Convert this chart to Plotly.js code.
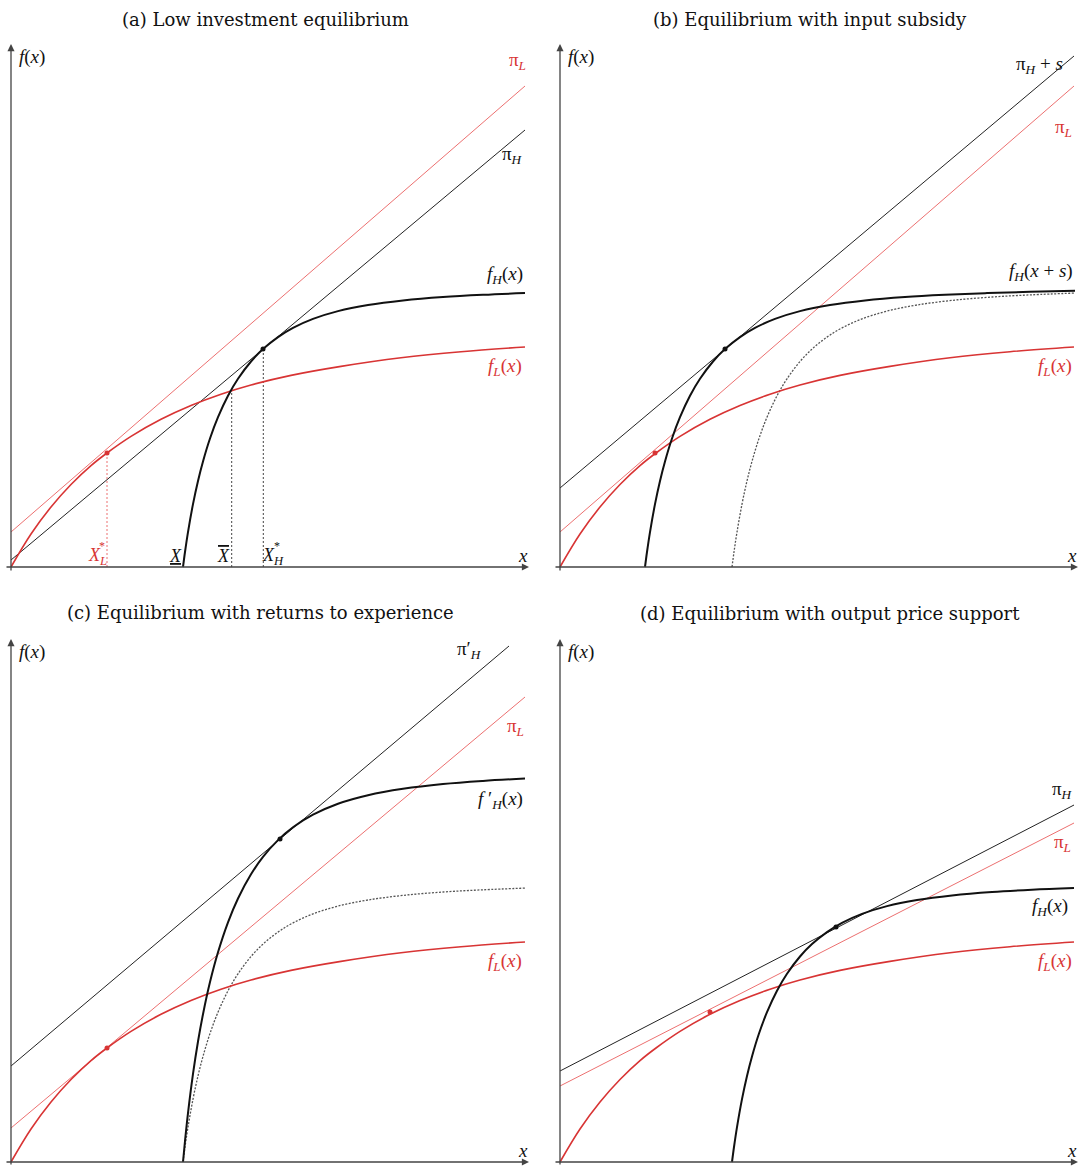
<!DOCTYPE html>
<html>
<head>
<meta charset="utf-8">
<script src="https://cdn.plot.ly/plotly-3.0.1.min.js"></script>
<style>html,body{margin:0;padding:0;background:#fff;}#chart{width:1085px;height:1166px;}</style>
</head>
<body>
<div id="chart"></div>
<script>
const fL_x = [0, 20, 40, 60, 80, 96, 120, 150, 180, 210, 240, 280, 330, 390, 450, 514];
const fL_y = [0, 33, 60, 82.5, 101.4, 114, 130.6, 147.7, 161.5, 172.8, 182, 191.6, 200.6, 209.2, 215.3, 220];

const fH_x = [172, 174, 177, 182, 187, 192, 199, 207, 217, 227, 240, 252, 267, 282, 302, 327, 357, 392, 432, 472, 514];
const fH_y = [0, 15, 34.9, 62.9, 86.1, 105.6, 128.5, 149.8, 171.2, 188.2, 205.5, 217.9, 229.9, 239.1, 248.1, 255.9, 262, 266.6, 270, 272.2, 273.9];

// f_H(x+s) in panel (b)
const fHs_x = [85, 87, 90, 95, 100, 105, 112, 120, 130, 140, 153, 165, 180, 195, 215, 240, 270, 305, 345, 385, 427, 470, 515];
const fHs_y = [0, 15, 34.9, 62.9, 86.1, 105.6, 128.5, 149.8, 171.2, 188.2, 205.5, 217.9, 229.9, 239.1, 248.1, 255.9, 262, 266.6, 270, 272.2, 273.9, 275.2, 276.3];

// f'_H(x) in panel (c)
const fHp_x = [172, 174, 177, 182, 187, 192, 199, 207, 217, 227, 240, 252, 267, 282, 302, 327, 357, 392, 432, 472, 514];
const fHp_y = [0, 21, 48.9, 88.1, 120.5, 147.8, 179.9, 209.7, 239.7, 263.5, 287.7, 305.1, 321.9, 334.7, 347.3, 358.3, 366.8, 373.2, 378, 381.1, 383.5];

// straight profit lines: [start, end]
const line_x   = [0, 514];
const piL_a    = [35, 481];
const piH_a    = [7, 437];
const piHs_b   = [79, 511];
const piL_b    = [35, 481];
const piHp_c_x = [0, 498];
const piHp_c   = [96, 516];
const piL_c    = [34, 465];
const piH_d    = [91, 357];
const piL_d    = [76, 339];

// marked points
const dotL = {a: [96, 114], b: [95, 114], c: [96, 114], d: [150, 150]};
const dotH = {a: [252, 217.9], b: [165, 217.9], c: [269, 323], d: [276, 235]};

// panel (a) guide lines: X_L*, X-bar, X_H*
const guide_x = [96, 220.7, 252.3];
const guide_top = [114, 177.5, 217.9];

// ---- styles ----
const RED = 'rgb(216,52,52)';
const RED_L = 'rgb(236,112,112)';
const BLK = '#111';
const P = {a: ['x', 'y'], b: ['x2', 'y2'], c: ['x3', 'y3'], d: ['x4', 'y4']};

function tr(p, x, y, color, width, dash, shape) {
  return {x: x, y: y, xaxis: P[p][0], yaxis: P[p][1], type: 'scatter', mode: 'lines',
    line: {color: color, width: width, dash: dash || 'solid', shape: shape || 'linear', smoothing: 1},
    hoverinfo: 'skip'};
}
function dot(p, pt, color) {
  return {x: [pt[0]], y: [pt[1]], xaxis: P[p][0], yaxis: P[p][1], type: 'scatter', mode: 'markers',
    marker: {color: color, size: 5}, hoverinfo: 'skip'};
}
const DOTTED = '2px,1.5px';

const data = [];
// (a)
data.push(tr('a', line_x, piL_a, RED_L, 1));
data.push(tr('a', line_x, piH_a, '#222', 1));
for (let i = 0; i < guide_x.length; i++) {
  data.push(tr('a', [guide_x[i], guide_x[i]], [0, guide_top[i]], i === 0 ? RED_L : '#444', 1, '2px,2px'));
}
data.push(tr('a', fL_x, fL_y, RED, 1.6, 'solid', 'spline'));
data.push(tr('a', fH_x, fH_y, BLK, 2, 'solid', 'spline'));
data.push(dot('a', dotL.a, RED));
data.push(dot('a', dotH.a, BLK));
// (b)
data.push(tr('b', line_x, piHs_b, '#222', 1));
data.push(tr('b', line_x, piL_b, RED_L, 1));
data.push(tr('b', fH_x, fH_y, '#555', 1.3, DOTTED, 'spline'));
data.push(tr('b', fL_x, fL_y, RED, 1.6, 'solid', 'spline'));
data.push(tr('b', fHs_x, fHs_y, BLK, 2, 'solid', 'spline'));
data.push(dot('b', dotL.b, RED));
data.push(dot('b', dotH.b, BLK));
// (c)
data.push(tr('c', piHp_c_x, piHp_c, '#222', 1));
data.push(tr('c', line_x, piL_c, RED_L, 1));
data.push(tr('c', fH_x, fH_y, '#555', 1.3, DOTTED, 'spline'));
data.push(tr('c', fL_x, fL_y, RED, 1.6, 'solid', 'spline'));
data.push(tr('c', fHp_x, fHp_y, BLK, 2, 'solid', 'spline'));
data.push(dot('c', dotL.c, RED));
data.push(dot('c', dotH.c, BLK));
// (d)
data.push(tr('d', line_x, piH_d, '#222', 1));
data.push(tr('d', line_x, piL_d, RED_L, 1));
data.push(tr('d', fL_x, fL_y, RED, 1.6, 'solid', 'spline'));
data.push(tr('d', fH_x, fH_y, BLK, 2, 'solid', 'spline'));
data.push(dot('d', dotL.d, RED));
data.push(dot('d', dotH.d, BLK));

// ---- annotations ----
const SERIF = 'Liberation Serif';
const ann = [];
function lab(p, x, y, text, color, xanchor, size) {
  ann.push({xref: P[p][0], yref: P[p][1], x: x, y: y, text: text, showarrow: false,
    xanchor: xanchor || 'center', yanchor: 'middle',
    font: {family: SERIF, size: size || 19, color: color || '#111'}});
}
function axes(p, bottom) {
  ann.push({xref: P[p][0], yref: P[p][1], axref: P[p][0], ayref: P[p][1], x: 518, y: 0, ax: -6, ay: 0,
    text: '', showarrow: true, arrowhead: 2, arrowsize: 1.1, arrowwidth: 1.3, arrowcolor: '#444', standoff: 0});
  ann.push({xref: P[p][0], yref: P[p][1], axref: P[p][0], ayref: P[p][1], x: 0, y: 523, ax: 0, ay: bottom,
    text: '', showarrow: true, arrowhead: 2, arrowsize: 1.1, arrowwidth: 1.3, arrowcolor: '#444', standoff: 0});
  lab(p, 6, 510, '<i>f</i>(<i>x</i>)', '#111', 'left', 19);
  lab(p, 512, 12, '<i>x</i>', '#111', 'center', 19);
}
axes('a', -5); axes('b', -5); axes('c', -4); axes('d', -4);

// titles
const TF = {family: 'DejaVu Serif', size: 18, color: '#111'};
function title(x, y, text) {
  ann.push({xref: 'paper', yref: 'paper', x: x, y: y, text: text, showarrow: false,
    xanchor: 'center', yanchor: 'middle', font: TF});
}
title(265 / 1085, 1 - 19 / 1166, '(a) Low investment equilibrium');
title(810 / 1085, 1 - 19 / 1166, '(b) Equilibrium with input subsidy');
title(260 / 1085, 1 - 612 / 1166, '(c) Equilibrium with returns to experience');
title(830 / 1085, 1 - 613 / 1166, '(d) Equilibrium with output price support');

// panel (a) labels
lab('a', 506, 506, 'π<sub><i>L</i></sub>', RED);
lab('a', 501, 412, 'π<sub><i>H</i></sub>');
lab('a', 494, 292, '<i>f</i><sub><i>H</i></sub>(<i>x</i>)');
lab('a', 494, 200, '<i>f</i><sub><i>L</i></sub>(<i>x</i>)', RED);
lab('a', 86, 11, '<i>X</i><sub><i>L</i></sub>', RED, 'center', 18);
lab('a', 91, 21, '*', RED, 'center', 12);
lab('a', 164, 11, '<span style="text-decoration:underline"><i>X</i></span>', '#111', 'center', 18);
lab('a', 212, 11, '<span style="text-decoration:overline"><i>X</i></span>', '#111', 'center', 18);
lab('a', 262, 11, '<i>X</i><sub><i>H</i></sub>', '#111', 'center', 18);
lab('a', 266, 21, '*', '#111', 'center', 12);
// panel (b)
lab('b', 479, 502, 'π<sub><i>H</i></sub> + <i>s</i>');
lab('b', 503, 439, 'π<sub><i>L</i></sub>', RED);
lab('b', 481, 295, '<i>f</i><sub><i>H</i></sub>(<i>x</i> + <i>s</i>)');
lab('b', 495, 200, '<i>f</i><sub><i>L</i></sub>(<i>x</i>)', RED);
// panel (c)
lab('c', 458, 512, 'π′<sub><i>H</i></sub>');
lab('c', 504, 435, 'π<sub><i>L</i></sub>', RED);
lab('c', 489, 362, '<i>f</i> ′<sub><i>H</i></sub>(<i>x</i>)');
lab('c', 494, 200, '<i>f</i><sub><i>L</i></sub>(<i>x</i>)', RED);
// panel (d)
lab('d', 502, 372, 'π<sub><i>H</i></sub>');
lab('d', 502, 319, 'π<sub><i>L</i></sub>', RED);
lab('d', 490, 255, '<i>f</i><sub><i>H</i></sub>(<i>x</i>)');
lab('d', 495, 200, '<i>f</i><sub><i>L</i></sub>(<i>x</i>)', RED);

// ---- axes (hidden; 1 data unit = 1 px) ----
function ax(domain, range) {
  return {domain: domain, range: range, visible: false, showgrid: false, zeroline: false, fixedrange: true};
}
const W = 1085, H = 1166;
const xa_left = [1 / W, 531 / W], xa_right = [550 / W, 1080 / W];
const ya_top = [1 - 575 / H, 1 - 42 / H], ya_bot = [0, 1 - 637 / H];

const layout = {
  width: W, height: H, margin: {l: 0, r: 0, t: 0, b: 0, pad: 0},
  paper_bgcolor: '#fff', plot_bgcolor: 'rgba(0,0,0,0)', showlegend: false,
  xaxis: ax(xa_left, [-10, 520]), yaxis: ax(ya_top, [-8, 525]),
  xaxis2: ax(xa_right, [-10, 520]), yaxis2: ax(ya_top, [-8, 525]),
  xaxis3: ax(xa_left, [-10, 520]), yaxis3: ax(ya_bot, [-4, 525]),
  xaxis4: ax(xa_right, [-10, 520]), yaxis4: ax(ya_bot, [-4, 525]),
  annotations: ann
};
Plotly.newPlot('chart', data, layout, {staticPlot: true, displayModeBar: false});
</script>
</body>
</html>
